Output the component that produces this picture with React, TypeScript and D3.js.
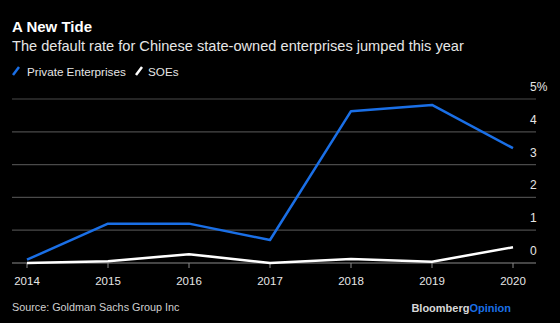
import React from "react";
import * as d3 from "d3";

const years = [2014, 2015, 2016, 2017, 2018, 2019, 2020];
const privateRates = [0.1, 1.2, 1.2, 0.7, 4.63, 4.82, 3.5];
const soeRates = [0.0, 0.05, 0.27, 0.0, 0.12, 0.04, 0.48];
const yTicks = [0, 1, 2, 3, 4, 5];

const W = 560;
const H = 323;
const FONT = "'Liberation Sans', Arial, sans-serif";

export default function App() {
  const x = d3.scaleLinear().domain([2014, 2020]).range([27, 513]);
  const y = d3.scaleLinear().domain([0, 5]).range([263, 99]);
  const line = d3
    .line<number>()
    .x((_, i) => x(years[i]))
    .y((d) => y(d));

  return (
    <svg
      width={W}
      height={H}
      style={{ position: "absolute", left: 0, top: 0, background: "#000" }}
    >
      <rect width={W} height={H} fill="#000" />
      <text x={12} y={32} fill="#fff" fontFamily={FONT} fontWeight="bold" fontSize={15}>
        A New Tide
      </text>
      <text x={12} y={51} fill="#e6e6e6" fontFamily={FONT} fontSize={14.6}>
        The default rate for Chinese state-owned enterprises jumped this year
      </text>
      {/* legend */}
      <line x1={13} y1={75} x2={19} y2={67} stroke="#1a6fe6" strokeWidth={2.5} />
      <text x={27} y={75.5} fill="#e6e6e6" fontFamily={FONT} fontSize={11.7}>
        Private Enterprises
      </text>
      <line x1={136} y1={75} x2={142} y2={67} stroke="#fff" strokeWidth={2.5} />
      <text x={148} y={75.5} fill="#e6e6e6" fontFamily={FONT} fontSize={11.7}>
        SOEs
      </text>
      {/* grid */}
      {yTicks.map((t) => (
        <g key={t}>
          <line x1={12} x2={536} y1={y(t)} y2={y(t)} stroke={t === 0 ? "#8a8a8a" : "#4a4a4a"} strokeWidth={1.2} />
          <text x={530} y={y(t) - 8} fill="#e6e6e6" fontFamily={FONT} fontSize={12}>
            {t === 5 ? "5%" : String(t)}
          </text>
        </g>
      ))}
      {years.map((yr) => (
        <g key={yr}>
          <line x1={x(yr)} x2={x(yr)} y1={263} y2={268} stroke="#8a8a8a" strokeWidth={1} />
          <text x={x(yr)} y={285} textAnchor="middle" fill="#e6e6e6" fontFamily={FONT} fontSize={11.5}>
            {yr}
          </text>
        </g>
      ))}
      <path d={line(soeRates) || ""} fill="none" stroke="#fff" strokeWidth={2.5} strokeLinejoin="round" />
      <path d={line(privateRates) || ""} fill="none" stroke="#1a6fe6" strokeWidth={2.5} strokeLinejoin="round" />
      <text x={12} y={311} fill="#d0d0d0" fontFamily={FONT} fontSize={10.8}>
        Source: Goldman Sachs Group Inc
      </text>
      <text x={511} y={311.5} textAnchor="end" fontFamily={FONT} fontWeight="bold" fontSize={11}>
        <tspan fill="#d8d8d8">Bloomberg</tspan>
        <tspan fill="#1a6fe6">Opinion</tspan>
      </text>
    </svg>
  );
}
